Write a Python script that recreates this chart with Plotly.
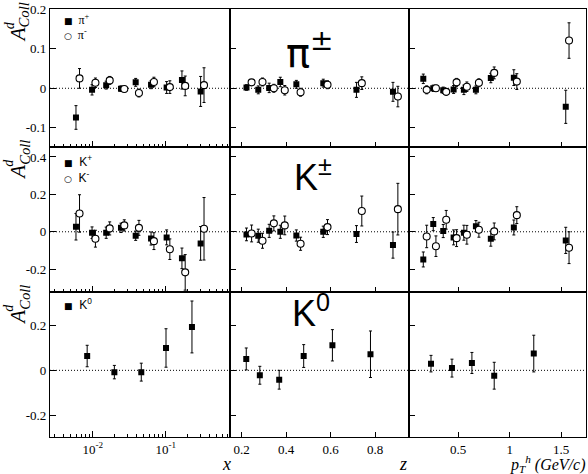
import plotly.graph_objects as go
from plotly.subplots import make_subplots

# ---------------- data ----------------
# pions vs x
x_pos = [0.0059, 0.0098, 0.0153, 0.0244, 0.0388, 0.063, 0.103, 0.167, 0.301]
x_neg = [0.0066, 0.0109, 0.0171, 0.0271, 0.043, 0.069, 0.114, 0.185, 0.335]
a_x_pip = [-0.074, -0.004, 0.008, -0.001, 0.015, 0.009, 0.002, 0.021, -0.008]
e_x_pip = [0.03, 0.013, 0.01, 0.007, 0.01, 0.01, 0.015, 0.023, 0.038]
a_x_pim = [0.025, 0.014, 0.02, -0.002, -0.012, 0.016, 0.003, 0.006, 0.008]
e_x_pim = [0.025, 0.012, 0.01, 0.007, 0.01, 0.012, 0.016, 0.025, 0.044]
# kaons vs x
a_x_kp = [0.027, -0.005, -0.005, 0.021, -0.021, -0.036, -0.03, -0.142, -0.062]
e_x_kp = [0.071, 0.031, 0.03, 0.025, 0.025, 0.035, 0.04, 0.055, 0.09]
a_x_km = [0.098, -0.037, 0.018, 0.034, 0.021, -0.05, -0.093, -0.217, 0.016]
e_x_km = [0.1, 0.045, 0.035, 0.03, 0.04, 0.045, 0.055, 0.095, 0.167]

# pions vs z
z_pos = [0.222, 0.275, 0.324, 0.374, 0.446, 0.567, 0.716, 0.88]
z_neg = [0.245, 0.294, 0.345, 0.394, 0.465, 0.586, 0.74, 0.902]
a_z_pip = [0.002, -0.004, 0.001, 0.016, 0.01, 0.013, -0.004, -0.009]
e_z_pip = [0.007, 0.01, 0.012, 0.012, 0.01, 0.01, 0.019, 0.024]
a_z_pim = [0.015, 0.016, 0.0, -0.005, -0.01, 0.009, 0.013, -0.021]
e_z_pim = [0.007, 0.01, 0.01, 0.012, 0.01, 0.01, 0.016, 0.026]
# kaons vs z
a_z_kp = [-0.014, -0.021, 0.005, 0.0, -0.02, 0.0, -0.012, -0.071]
e_z_kp = [0.034, 0.035, 0.035, 0.035, 0.03, 0.03, 0.045, 0.07]
a_z_km = [-0.009, -0.048, 0.045, 0.034, -0.064, 0.025, 0.111, 0.121]
e_z_km = [0.045, 0.04, 0.04, 0.05, 0.035, 0.04, 0.08, 0.138]

# pions vs pT
pt_pos = [0.16, 0.257, 0.354, 0.455, 0.555, 0.672, 0.817, 1.041, 1.546]
pt_neg = [0.193, 0.283, 0.383, 0.484, 0.584, 0.701, 0.85, 1.07, 1.578]
a_pt_pip = [0.024, 0.0, -0.005, -0.003, -0.004, -0.004, 0.026, 0.027, -0.047]
e_pt_pip = [0.012, 0.008, 0.008, 0.01, 0.012, 0.01, 0.012, 0.02, 0.042]
a_pt_pim = [-0.004, 0.0, -0.009, 0.015, 0.004, 0.014, 0.039, 0.017, 0.121]
e_pt_pim = [0.01, 0.008, 0.008, 0.01, 0.012, 0.01, 0.015, 0.02, 0.045]
# kaons vs pT
a_pt_kp = [-0.148, 0.041, 0.004, -0.03, -0.005, 0.03, -0.037, 0.023, -0.046]
e_pt_kp = [0.04, 0.035, 0.035, 0.04, 0.04, 0.03, 0.04, 0.04, 0.07]
a_pt_km = [-0.025, -0.077, 0.064, -0.034, -0.016, 0.011, 0.002, 0.089, -0.085]
e_pt_km = [0.06, 0.055, 0.05, 0.045, 0.05, 0.04, 0.045, 0.045, 0.085]

# K0
x_k0 = [0.0084, 0.0198, 0.0463, 0.101, 0.229]
a_x_k0 = [0.064, -0.008, -0.008, 0.1, 0.194]
e_x_k0 = [0.048, 0.03, 0.04, 0.086, 0.116]
z_k0 = [0.221, 0.282, 0.369, 0.479, 0.608, 0.779]
a_z_k0 = [0.051, -0.022, -0.042, 0.064, 0.112, 0.072]
e_z_k0 = [0.049, 0.04, 0.042, 0.051, 0.07, 0.104]
pt_k0 = [0.235, 0.439, 0.633, 0.85, 1.235]
a_pt_k0 = [0.03, 0.01, 0.033, -0.024, 0.075]
e_pt_k0 = [0.037, 0.04, 0.047, 0.06, 0.082]

# ---------------- layout helpers ----------------
W, H = 588, 474
ML, MR, MT, MB = 50, 2, 9, 37
PW, PH = W - ML - MR, H - MT - MB
SERIF = "Liberation Serif, Times New Roman, Times, serif"
SANS = "Liberation Sans, Arial, Helvetica, sans-serif"


def px(xp):
    return (xp - ML) / PW


def py(yp):
    return (H - MB - yp) / PH


fig = make_subplots(rows=3, cols=3, horizontal_spacing=0, vertical_spacing=0,
                    column_widths=[180, 179, 177], row_heights=[137.5, 145, 145])

BLACK = "black"


def add_series(row, col, xs, ys, es, filled):
    marker = dict(symbol="square", size=6, color=BLACK) if filled else \
        dict(symbol="circle", size=7, color="white", line=dict(color=BLACK, width=1.1))
    fig.add_trace(go.Scatter(x=xs, y=ys, mode="markers", marker=marker,
                             error_y=dict(type="data", array=es, color=BLACK,
                                          thickness=1, width=1.5),
                             showlegend=False, cliponaxis=True), row=row, col=col)


# row 1: pions
add_series(1, 1, x_pos, a_x_pip, e_x_pip, True)
add_series(1, 1, x_neg, a_x_pim, e_x_pim, False)
add_series(1, 2, z_pos, a_z_pip, e_z_pip, True)
add_series(1, 2, z_neg, a_z_pim, e_z_pim, False)
add_series(1, 3, pt_pos, a_pt_pip, e_pt_pip, True)
add_series(1, 3, pt_neg, a_pt_pim, e_pt_pim, False)
# row 2: kaons
add_series(2, 1, x_pos, a_x_kp, e_x_kp, True)
add_series(2, 1, x_neg, a_x_km, e_x_km, False)
add_series(2, 2, z_pos, a_z_kp, e_z_kp, True)
add_series(2, 2, z_neg, a_z_km, e_z_km, False)
add_series(2, 3, pt_pos, a_pt_kp, e_pt_kp, True)
add_series(2, 3, pt_neg, a_pt_km, e_pt_km, False)
# row 3: K0
add_series(3, 1, x_k0, a_x_k0, e_x_k0, True)
add_series(3, 2, z_k0, a_z_k0, e_z_k0, True)
add_series(3, 3, pt_k0, a_pt_k0, e_pt_k0, True)

TICKFONT = dict(family=SERIF, size=13, color=BLACK)
y_ranges = [[-0.148, 0.201], [-0.321, 0.455], [-0.298, 0.351]]
y_ticks = [[-0.1, 0, 0.1, 0.2], [-0.2, 0, 0.2, 0.4], [-0.2, 0, 0.2]]
y_text = [["-0.1", "0", "0.1", "0.2"], ["-0.2", "0", "0.2", "0.4"], ["-0.2", "0", "0.2"]]

for r in range(1, 4):
    for c in range(1, 4):
        fig.update_yaxes(row=r, col=c, range=y_ranges[r - 1], tickvals=y_ticks[r - 1],
                         ticktext=y_text[r - 1], showticklabels=(c == 1),
                         ticks="inside", ticklen=6, tickwidth=1, tickcolor=BLACK,
                         showline=True, linecolor=BLACK, linewidth=1.2, mirror=True,
                         showgrid=False, zeroline=False, tickfont=TICKFONT)
        common_x = dict(ticks="inside", tickwidth=1, tickcolor=BLACK, showline=True,
                        linecolor=BLACK, linewidth=1.2, mirror=True, showgrid=False,
                        zeroline=False, showticklabels=(r == 3), tickfont=TICKFONT)
        if c == 1:
            fig.update_xaxes(row=r, col=c, type="log", range=[-2.585, -0.119],
                             tickvals=[0.01, 0.1], ticktext=["10<sup>-2</sup>", "10<sup>-1</sup>"],
                             ticklen=6,
                             minor=dict(ticks="inside", ticklen=3, tickcolor=BLACK,
                                        tickwidth=1, dtick="D1", showgrid=False),
                             **common_x)
        elif c == 2:
            fig.update_xaxes(row=r, col=c, range=[0.148, 0.952],
                             tickvals=[0.2, 0.4, 0.6, 0.8], ticktext=["0.2", "0.4", "0.6", "0.8"],
                             ticklen=5, **common_x)
        else:
            fig.update_xaxes(row=r, col=c, range=[0.021, 1.743],
                             tickvals=[0.5, 1, 1.5], ticktext=["0.5", "1", "1.5"],
                             ticklen=5, **common_x)
        # dotted zero line
        idx = (r - 1) * 3 + c
        xr = "x" if idx == 1 else f"x{idx}"
        yr = "y" if idx == 1 else f"y{idx}"
        fig.add_shape(type="line", xref=f"{xr} domain", yref=yr, x0=0, x1=1, y0=0, y1=0,
                      line=dict(color=BLACK, width=1, dash="1px,2px"), layer="below")

annotations = []

# y-axis titles
row_tops = [9.3, 146.7, 291.7]
for top in row_tops:
    annotations.append(dict(text="<i>A</i><sub><i>Coll</i></sub>", x=px(19), y=py(top + 13),
                            xref="paper", yref="paper", showarrow=False, textangle=-90,
                            xanchor="center", yanchor="middle",
                            font=dict(family=SERIF, size=21, color=BLACK)))
    annotations.append(dict(text="<i>d</i>", x=px(9), y=py(top + 16),
                            xref="paper", yref="paper", showarrow=False, textangle=-90,
                            xanchor="center", yanchor="middle",
                            font=dict(family=SERIF, size=14, color=BLACK)))

# legends (as text)
SQ = '<span style="font-family:DejaVu Sans;font-size:9px">■</span>'
CI = '<span style="font-family:DejaVu Sans;font-size:9px">○</span>'
leg = [
    (20, SQ + "  π<sup>+</sup>", SERIF),
    (34, CI + "  π<sup>-</sup>", SERIF),
    (161, SQ + "  K<sup>+</sup>", SANS),
    (177, CI + "  K<sup>-</sup>", SANS),
    (304, SQ + "  K<sup>0</sup>", SANS),
]
for yy, txt, fam in leg:
    annotations.append(dict(text=txt, x=px(62), y=py(yy), xref="paper", yref="paper",
                            showarrow=False, xanchor="left", yanchor="middle",
                            font=dict(family=fam, size=12, color=BLACK)))

# big particle labels
annotations.append(dict(text="π<sup>±</sup>", x=px(310), y=py(50), xref="paper", yref="paper",
                        showarrow=False, xanchor="center", yanchor="middle",
                        font=dict(family="DejaVu Sans", size=40, color=BLACK)))
annotations.append(dict(text="K<sup>±</sup>", x=px(313), y=py(175), xref="paper", yref="paper",
                        showarrow=False, xanchor="center", yanchor="middle",
                        font=dict(family=SANS, size=36, color=BLACK)))
annotations.append(dict(text="K<sup>0</sup>", x=px(311), y=py(311), xref="paper", yref="paper",
                        showarrow=False, xanchor="center", yanchor="middle",
                        font=dict(family=SANS, size=36, color=BLACK)))

# x-axis titles
annotations.append(dict(text="<i>x</i>", x=px(226), y=py(464), xref="paper", yref="paper",
                        showarrow=False, xanchor="center", yanchor="middle",
                        font=dict(family=SERIF, size=18, color=BLACK)))
annotations.append(dict(text="<i>z</i>", x=px(403), y=py(464), xref="paper", yref="paper",
                        showarrow=False, xanchor="center", yanchor="middle",
                        font=dict(family=SERIF, size=18, color=BLACK)))
annotations.append(dict(text="<i>p</i><sub><i>T</i></sub><sup><i>h</i></sup> <i>(GeV/c)</i>",
                        x=px(587), y=py(464), xref="paper", yref="paper",
                        showarrow=False, xanchor="right", yanchor="middle",
                        font=dict(family=SERIF, size=16, color=BLACK)))

fig.update_layout(width=W, height=H, margin=dict(l=ML, r=MR, t=MT, b=MB),
                  plot_bgcolor="white", paper_bgcolor="white", annotations=annotations,
                  showlegend=False)

fig.write_html("out.html")
